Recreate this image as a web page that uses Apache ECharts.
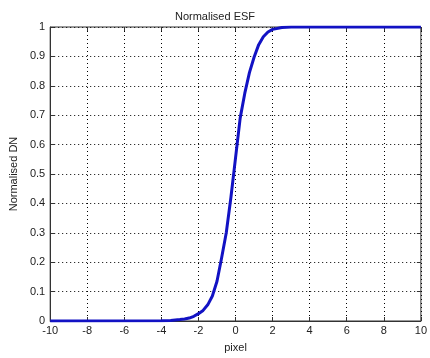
<!DOCTYPE html>
<html><head><meta charset="utf-8">
<script src="https://cdn.jsdelivr.net/npm/echarts@6/dist/echarts.min.js"></script>
<style>html,body{margin:0;padding:0;background:#fff}#c{width:430px;height:358px}</style>
</head><body><div id="c"></div>
<script>
var xValues = [-10, -4, -3.5, -3, -2.75, -2.5, -2.25, -2, -1.75, -1.5, -1.25, -1, -0.75, -0.5, -0.25, 0, 0.25, 0.5, 0.75, 1, 1.25, 1.5, 1.75, 2, 2.5, 3, 4, 10];
var esfValues = [0, 0.001, 0.002, 0.005, 0.007, 0.01, 0.016, 0.025, 0.036, 0.055, 0.085, 0.135, 0.215, 0.30, 0.42, 0.555, 0.69, 0.775, 0.845, 0.897, 0.94, 0.967, 0.983, 0.992, 0.998, 1.0, 1.0, 1.0];
var xTicks = [-10, -8, -6, -4, -2, 0, 2, 4, 6, 8, 10];
var yTicks = [0, 0.1, 0.2, 0.3, 0.4, 0.5, 0.6, 0.7, 0.8, 0.9, 1];

var pts = xValues.map(function (x, i) { return [x, esfValues[i]]; });
var font = 'Liberation Sans, Arial, sans-serif';
var chart = echarts.init(document.getElementById('c'), null, {renderer: 'canvas'});
var gridLine = {show: true, lineStyle: {color: '#000', type: [1, 3], width: 1}};
var tick = {show: true, inside: true, length: 4, lineStyle: {color: '#333'}};
chart.setOption({
  animation: false,
  backgroundColor: '#fff',
  title: {text: 'Normalised ESF', left: 'center', top: 6,
    textStyle: {fontFamily: font, fontSize: 11, fontWeight: 'normal', color: '#222'}},
  grid: {left: 49, right: 1, top: 27, bottom: 33, show: true, borderColor: '#333', borderWidth: 1},
  xAxis: [{
    type: 'value', min: -10, max: 10, interval: 2,
    name: 'pixel', nameLocation: 'middle', nameGap: 21,
    nameTextStyle: {fontFamily: font, fontSize: 11, color: '#222'},
    axisLine: {show: true, onZero: false, lineStyle: {color: '#333'}},
    axisTick: tick,
    axisLabel: {fontFamily: font, fontSize: 11, color: '#222', margin: 4,
      formatter: function (v) { return xTicks.indexOf(v) >= 0 ? String(v) : ''; }},
    splitLine: gridLine
  }, {
    type: 'value', min: -10, max: 10, interval: 2, position: 'top',
    axisLine: {show: false, onZero: false}, axisTick: tick,
    axisLabel: {show: false}, splitLine: {show: false}
  }],
  yAxis: [{
    type: 'value', min: 0, max: 1, interval: 0.1,
    name: 'Normalised DN', nameLocation: 'middle', nameGap: 30,
    nameTextStyle: {fontFamily: font, fontSize: 11, color: '#222'},
    axisLine: {show: true, onZero: false, lineStyle: {color: '#333'}},
    axisTick: tick,
    axisLabel: {fontFamily: font, fontSize: 11, color: '#222', margin: 5,
      formatter: function (v) { return String(Math.round(v * 10) / 10); }},
    splitLine: gridLine
  }, {
    type: 'value', min: 0, max: 1, interval: 0.1, position: 'right',
    axisLine: {show: false, onZero: false}, axisTick: tick,
    axisLabel: {show: false}, splitLine: {show: false}
  }],
  series: [{
    type: 'line', data: pts, smooth: false, showSymbol: false, symbol: 'none',
    lineStyle: {color: '#1212c4', width: 3, join: 'round'}, clip: true
  }]
});
</script></body></html>
